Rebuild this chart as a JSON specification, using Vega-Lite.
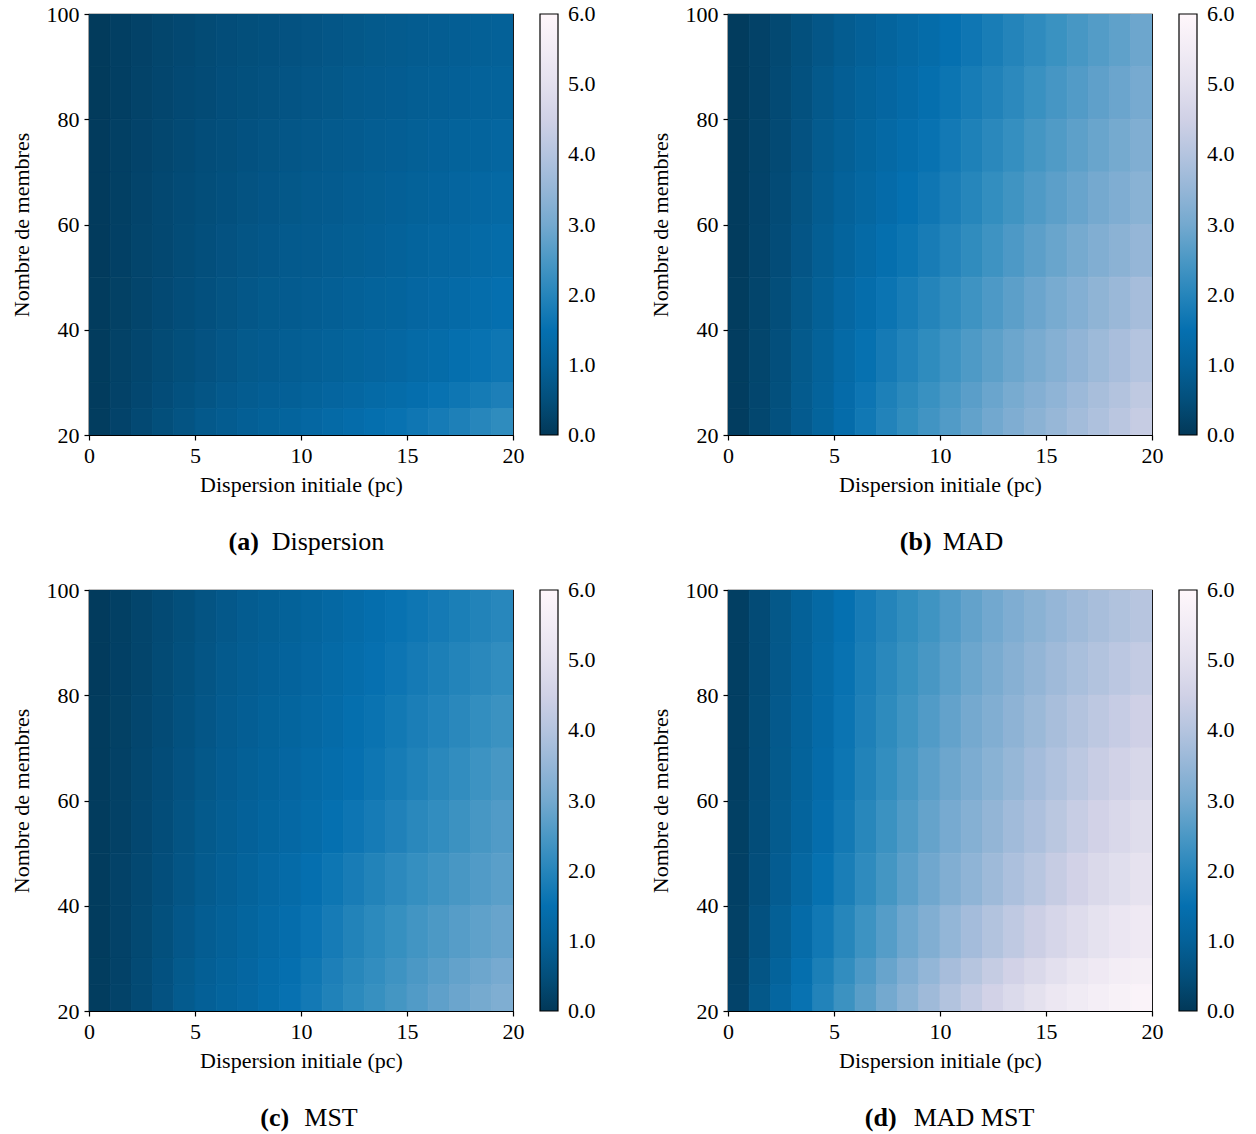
{
"$schema": "https://vega.github.io/schema/vega-lite/v6.json",
"background": "white",
"padding": {"top": 2, "left": 9, "right": 5, "bottom": 5},
"datasets": {
"cols": [{"k":"c0","x0":0,"x1":1},{"k":"c1","x0":1,"x1":2},{"k":"c2","x0":2,"x1":3},{"k":"c3","x0":3,"x1":4},{"k":"c4","x0":4,"x1":5},{"k":"c5","x0":5,"x1":6},{"k":"c6","x0":6,"x1":7},{"k":"c7","x0":7,"x1":8},{"k":"c8","x0":8,"x1":9},{"k":"c9","x0":9,"x1":10},{"k":"c10","x0":10,"x1":11},{"k":"c11","x0":11,"x1":12},{"k":"c12","x0":12,"x1":13},{"k":"c13","x0":13,"x1":14},{"k":"c14","x0":14,"x1":15},{"k":"c15","x0":15,"x1":16},{"k":"c16","x0":16,"x1":17},{"k":"c17","x0":17,"x1":18},{"k":"c18","x0":18,"x1":19},{"k":"c19","x0":19,"x1":20}],
"grid": [
{"p":"a","y0":90,"y1":100,"c0":0.06,"c1":0.15,"c2":0.23,"c3":0.30,"c4":0.36,"c5":0.41,"c6":0.46,"c7":0.50,"c8":0.54,"c9":0.58,"c10":0.62,"c11":0.66,"c12":0.70,"c13":0.74,"c14":0.78,"c15":0.82,"c16":0.86,"c17":0.90,"c18":0.94,"c19":0.98},
{"p":"a","y0":80,"y1":90,"c0":0.06,"c1":0.16,"c2":0.24,"c3":0.31,"c4":0.38,"c5":0.43,"c6":0.49,"c7":0.53,"c8":0.57,"c9":0.62,"c10":0.66,"c11":0.70,"c12":0.75,"c13":0.79,"c14":0.83,"c15":0.88,"c16":0.92,"c17":0.97,"c18":1.02,"c19":1.06},
{"p":"a","y0":70,"y1":80,"c0":0.07,"c1":0.17,"c2":0.25,"c3":0.33,"c4":0.40,"c5":0.46,"c6":0.51,"c7":0.56,"c8":0.61,"c9":0.66,"c10":0.71,"c11":0.75,"c12":0.80,"c13":0.85,"c14":0.90,"c15":0.95,"c16":1.00,"c17":1.05,"c18":1.10,"c19":1.16},
{"p":"a","y0":60,"y1":70,"c0":0.07,"c1":0.17,"c2":0.27,"c3":0.35,"c4":0.42,"c5":0.48,"c6":0.54,"c7":0.60,"c8":0.65,"c9":0.70,"c10":0.75,"c11":0.80,"c12":0.85,"c13":0.91,"c14":0.96,"c15":1.01,"c16":1.07,"c17":1.13,"c18":1.19,"c19":1.25},
{"p":"a","y0":50,"y1":60,"c0":0.07,"c1":0.18,"c2":0.28,"c3":0.36,"c4":0.44,"c5":0.51,"c6":0.58,"c7":0.63,"c8":0.69,"c9":0.75,"c10":0.80,"c11":0.86,"c12":0.91,"c13":0.97,"c14":1.03,"c15":1.09,"c16":1.15,"c17":1.21,"c18":1.29,"c19":1.35},
{"p":"a","y0":40,"y1":50,"c0":0.08,"c1":0.19,"c2":0.29,"c3":0.38,"c4":0.47,"c5":0.54,"c6":0.61,"c7":0.68,"c8":0.74,"c9":0.80,"c10":0.86,"c11":0.92,"c12":0.98,"c13":1.04,"c14":1.10,"c15":1.17,"c16":1.24,"c17":1.31,"c18":1.39,"c19":1.47},
{"p":"a","y0":30,"y1":40,"c0":0.08,"c1":0.21,"c2":0.31,"c3":0.41,"c4":0.50,"c5":0.58,"c6":0.66,"c7":0.74,"c8":0.80,"c9":0.87,"c10":0.94,"c11":1.01,"c12":1.08,"c13":1.14,"c14":1.21,"c15":1.29,"c16":1.36,"c17":1.45,"c18":1.55,"c19":1.64},
{"p":"a","y0":25,"y1":30,"c0":0.09,"c1":0.23,"c2":0.34,"c3":0.45,"c4":0.55,"c5":0.64,"c6":0.73,"c7":0.82,"c8":0.89,"c9":0.97,"c10":1.05,"c11":1.13,"c12":1.20,"c13":1.28,"c14":1.36,"c15":1.44,"c16":1.54,"c17":1.64,"c18":1.75,"c19":1.86},
{"p":"a","y0":20,"y1":25,"c0":0.10,"c1":0.25,"c2":0.38,"c3":0.50,"c4":0.61,"c5":0.72,"c6":0.82,"c7":0.92,"c8":1.01,"c9":1.10,"c10":1.19,"c11":1.28,"c12":1.37,"c13":1.46,"c14":1.55,"c15":1.65,"c16":1.76,"c17":1.88,"c18":2.02,"c19":2.15},
{"p":"b","y0":90,"y1":100,"c0":0.08,"c1":0.22,"c2":0.37,"c3":0.52,"c4":0.67,"c5":0.82,"c6":0.96,"c7":1.09,"c8":1.22,"c9":1.36,"c10":1.50,"c11":1.65,"c12":1.80,"c13":1.97,"c14":2.14,"c15":2.30,"c16":2.45,"c17":2.60,"c18":2.75,"c19":2.92},
{"p":"b","y0":80,"y1":90,"c0":0.08,"c1":0.23,"c2":0.39,"c3":0.55,"c4":0.72,"c5":0.89,"c6":1.04,"c7":1.17,"c8":1.31,"c9":1.46,"c10":1.61,"c11":1.77,"c12":1.93,"c13":2.09,"c14":2.29,"c15":2.44,"c16":2.59,"c17":2.74,"c18":2.89,"c19":3.05},
{"p":"b","y0":70,"y1":80,"c0":0.09,"c1":0.24,"c2":0.40,"c3":0.58,"c4":0.77,"c5":0.95,"c6":1.11,"c7":1.26,"c8":1.40,"c9":1.55,"c10":1.72,"c11":1.89,"c12":2.06,"c13":2.23,"c14":2.42,"c15":2.57,"c16":2.72,"c17":2.87,"c18":3.02,"c19":3.18},
{"p":"b","y0":60,"y1":70,"c0":0.09,"c1":0.25,"c2":0.42,"c3":0.61,"c4":0.82,"c5":1.02,"c6":1.18,"c7":1.34,"c8":1.49,"c9":1.65,"c10":1.83,"c11":2.01,"c12":2.20,"c13":2.37,"c14":2.55,"c15":2.71,"c16":2.86,"c17":3.01,"c18":3.16,"c19":3.32},
{"p":"b","y0":50,"y1":60,"c0":0.09,"c1":0.27,"c2":0.45,"c3":0.65,"c4":0.88,"c5":1.10,"c6":1.28,"c7":1.45,"c8":1.61,"c9":1.79,"c10":1.97,"c11":2.16,"c12":2.35,"c13":2.53,"c14":2.71,"c15":2.87,"c16":3.03,"c17":3.19,"c18":3.34,"c19":3.50},
{"p":"b","y0":40,"y1":50,"c0":0.10,"c1":0.28,"c2":0.48,"c3":0.70,"c4":0.95,"c5":1.19,"c6":1.40,"c7":1.59,"c8":1.78,"c9":1.97,"c10":2.16,"c11":2.35,"c12":2.53,"c13":2.71,"c14":2.89,"c15":3.06,"c16":3.22,"c17":3.40,"c18":3.57,"c19":3.75},
{"p":"b","y0":30,"y1":40,"c0":0.11,"c1":0.30,"c2":0.51,"c3":0.74,"c4":1.01,"c5":1.28,"c6":1.52,"c7":1.74,"c8":1.95,"c9":2.15,"c10":2.35,"c11":2.54,"c12":2.72,"c13":2.90,"c14":3.08,"c15":3.26,"c16":3.43,"c17":3.62,"c18":3.80,"c19":4.00},
{"p":"b","y0":25,"y1":30,"c0":0.11,"c1":0.31,"c2":0.53,"c3":0.78,"c4":1.05,"c5":1.34,"c6":1.62,"c7":1.87,"c8":2.08,"c9":2.29,"c10":2.48,"c11":2.68,"c12":2.88,"c13":3.06,"c14":3.24,"c15":3.41,"c16":3.60,"c17":3.78,"c18":3.98,"c19":4.19},
{"p":"b","y0":20,"y1":25,"c0":0.12,"c1":0.32,"c2":0.55,"c3":0.80,"c4":1.08,"c5":1.38,"c6":1.68,"c7":1.95,"c8":2.17,"c9":2.38,"c10":2.58,"c11":2.78,"c12":2.98,"c13":3.16,"c14":3.34,"c15":3.52,"c16":3.71,"c17":3.90,"c18":4.10,"c19":4.32},
{"p":"c","y0":90,"y1":100,"c0":0.07,"c1":0.17,"c2":0.28,"c3":0.39,"c4":0.50,"c5":0.61,"c6":0.71,"c7":0.81,"c8":0.91,"c9":1.01,"c10":1.11,"c11":1.22,"c12":1.33,"c13":1.44,"c14":1.54,"c15":1.64,"c16":1.74,"c17":1.84,"c18":1.94,"c19":2.04},
{"p":"c","y0":80,"y1":90,"c0":0.07,"c1":0.18,"c2":0.29,"c3":0.41,"c4":0.53,"c5":0.64,"c6":0.75,"c7":0.86,"c8":0.96,"c9":1.07,"c10":1.17,"c11":1.28,"c12":1.39,"c13":1.51,"c14":1.62,"c15":1.74,"c16":1.85,"c17":1.96,"c18":2.07,"c19":2.18},
{"p":"c","y0":70,"y1":80,"c0":0.08,"c1":0.19,"c2":0.31,"c3":0.43,"c4":0.55,"c5":0.67,"c6":0.79,"c7":0.90,"c8":1.01,"c9":1.12,"c10":1.22,"c11":1.33,"c12":1.45,"c13":1.57,"c14":1.70,"c15":1.83,"c16":1.95,"c17":2.07,"c18":2.20,"c19":2.31},
{"p":"c","y0":60,"y1":70,"c0":0.08,"c1":0.20,"c2":0.32,"c3":0.45,"c4":0.58,"c5":0.70,"c6":0.83,"c7":0.95,"c8":1.06,"c9":1.17,"c10":1.28,"c11":1.39,"c12":1.51,"c13":1.64,"c14":1.78,"c15":1.92,"c16":2.06,"c17":2.19,"c18":2.33,"c19":2.45},
{"p":"c","y0":50,"y1":60,"c0":0.08,"c1":0.20,"c2":0.34,"c3":0.47,"c4":0.61,"c5":0.74,"c6":0.87,"c7":1.00,"c8":1.12,"c9":1.24,"c10":1.36,"c11":1.49,"c12":1.62,"c13":1.76,"c14":1.91,"c15":2.06,"c16":2.19,"c17":2.32,"c18":2.45,"c19":2.58},
{"p":"c","y0":40,"y1":50,"c0":0.09,"c1":0.22,"c2":0.35,"c3":0.49,"c4":0.64,"c5":0.78,"c6":0.92,"c7":1.05,"c8":1.19,"c9":1.32,"c10":1.47,"c11":1.63,"c12":1.79,"c13":1.94,"c14":2.09,"c15":2.23,"c16":2.35,"c17":2.47,"c18":2.58,"c19":2.69},
{"p":"c","y0":30,"y1":40,"c0":0.09,"c1":0.23,"c2":0.37,"c3":0.52,"c4":0.69,"c5":0.85,"c6":0.99,"c7":1.12,"c8":1.26,"c9":1.41,"c10":1.58,"c11":1.76,"c12":1.94,"c13":2.10,"c14":2.25,"c15":2.39,"c16":2.52,"c17":2.64,"c18":2.75,"c19":2.86},
{"p":"c","y0":25,"y1":30,"c0":0.10,"c1":0.23,"c2":0.39,"c3":0.56,"c4":0.74,"c5":0.92,"c6":1.05,"c7":1.17,"c8":1.32,"c9":1.48,"c10":1.66,"c11":1.86,"c12":2.03,"c13":2.19,"c14":2.35,"c15":2.50,"c16":2.65,"c17":2.79,"c18":2.92,"c19":3.05},
{"p":"c","y0":20,"y1":25,"c0":0.10,"c1":0.24,"c2":0.40,"c3":0.58,"c4":0.78,"c5":0.97,"c6":1.10,"c7":1.21,"c8":1.36,"c9":1.53,"c10":1.72,"c11":1.92,"c12":2.10,"c13":2.26,"c14":2.42,"c15":2.58,"c16":2.74,"c17":2.89,"c18":3.03,"c19":3.17},
{"p":"d","y0":90,"y1":100,"c0":0.15,"c1":0.42,"c2":0.70,"c3":0.98,"c4":1.25,"c5":1.50,"c6":1.76,"c7":1.98,"c8":2.17,"c9":2.36,"c10":2.58,"c11":2.79,"c12":2.98,"c13":3.16,"c14":3.33,"c15":3.49,"c16":3.64,"c17":3.78,"c18":3.92,"c19":4.05},
{"p":"d","y0":80,"y1":90,"c0":0.15,"c1":0.43,"c2":0.71,"c3":1.00,"c4":1.28,"c5":1.54,"c6":1.82,"c7":2.06,"c8":2.27,"c9":2.47,"c10":2.69,"c11":2.90,"c12":3.09,"c13":3.28,"c14":3.46,"c15":3.64,"c16":3.81,"c17":3.97,"c18":4.13,"c19":4.27},
{"p":"d","y0":70,"y1":80,"c0":0.16,"c1":0.44,"c2":0.73,"c3":1.02,"c4":1.31,"c5":1.59,"c6":1.88,"c7":2.13,"c8":2.36,"c9":2.58,"c10":2.80,"c11":3.01,"c12":3.20,"c13":3.39,"c14":3.59,"c15":3.78,"c16":3.98,"c17":4.16,"c18":4.33,"c19":4.48},
{"p":"d","y0":60,"y1":70,"c0":0.16,"c1":0.45,"c2":0.74,"c3":1.04,"c4":1.34,"c5":1.63,"c6":1.94,"c7":2.21,"c8":2.45,"c9":2.70,"c10":2.92,"c11":3.12,"c12":3.32,"c13":3.51,"c14":3.72,"c15":3.93,"c16":4.15,"c17":4.36,"c18":4.54,"c19":4.70},
{"p":"d","y0":50,"y1":60,"c0":0.17,"c1":0.46,"c2":0.78,"c3":1.09,"c4":1.41,"c5":1.71,"c6":2.03,"c7":2.31,"c8":2.57,"c9":2.82,"c10":3.04,"c11":3.25,"c12":3.46,"c13":3.67,"c14":3.88,"c15":4.11,"c16":4.34,"c17":4.55,"c18":4.74,"c19":4.90},
{"p":"d","y0":40,"y1":50,"c0":0.18,"c1":0.49,"c2":0.83,"c3":1.18,"c4":1.52,"c5":1.82,"c6":2.14,"c7":2.42,"c8":2.70,"c9":2.95,"c10":3.19,"c11":3.41,"c12":3.63,"c13":3.86,"c14":4.08,"c15":4.32,"c16":4.55,"c17":4.76,"c18":4.94,"c19":5.09},
{"p":"d","y0":30,"y1":40,"c0":0.20,"c1":0.56,"c2":0.94,"c3":1.32,"c4":1.68,"c5":2.01,"c6":2.33,"c7":2.63,"c8":2.93,"c9":3.20,"c10":3.47,"c11":3.72,"c12":3.96,"c13":4.20,"c14":4.43,"c15":4.66,"c16":4.87,"c17":5.07,"c18":5.23,"c19":5.36},
{"p":"d","y0":25,"y1":30,"c0":0.23,"c1":0.64,"c2":1.06,"c3":1.45,"c4":1.84,"c5":2.19,"c6":2.53,"c7":2.85,"c8":3.16,"c9":3.47,"c10":3.76,"c11":4.04,"c12":4.31,"c13":4.55,"c14":4.78,"c15":5.00,"c16":5.20,"c17":5.36,"c18":5.51,"c19":5.62},
{"p":"d","y0":20,"y1":25,"c0":0.25,"c1":0.70,"c2":1.15,"c3":1.55,"c4":1.95,"c5":2.32,"c6":2.67,"c7":3.00,"c8":3.33,"c9":3.65,"c10":3.97,"c11":4.27,"c12":4.55,"c13":4.80,"c14":5.03,"c15":5.24,"c16":5.42,"c17":5.57,"c18":5.70,"c19":5.80}
]
},
"columns": 2,
"spacing": {"column": 52, "row": 22},
"resolve": {"scale": {"color": "shared", "x": "independent", "y": "independent"}, "legend": {"color": "independent"}},
"concat": [
{"title": {"text": "(a)", "orient": "bottom", "anchor": "middle", "frame": "bounds", "fontWeight": "bold", "dx": -59, "dy": -27, "offset": 0},
 "vconcat": [{
  "width": 424, "height": 421,
  "data": {"name": "grid"},
  "transform": [{"filter": "datum.p === 'a'"}, {"fold": ["c0","c1","c2","c3","c4","c5","c6","c7","c8","c9","c10","c11","c12","c13","c14","c15","c16","c17","c18","c19"], "as": ["k","v"]}, {"lookup": "k", "from": {"data": {"name": "cols"}, "key": "k", "fields": ["x0","x1"]}}],
  "mark": {"type": "rect", "clip": true, "stroke": {"expr": "scale('color', datum.v)"}, "strokeWidth": 0.8},
  "encoding": {
   "x": {"field": "x0", "type": "quantitative", "scale": {"domain": [0,20], "nice": false, "zero": false}, "axis": {"values": [0,5,10,15,20], "title": "Dispersion initiale (pc)"}},
   "x2": {"field": "x1"},
   "y": {"field": "y0", "type": "quantitative", "scale": {"domain": [20,100], "nice": false, "zero": false}, "axis": {"values": [20,40,60,80,100], "title": "Nombre de membres"}},
   "y2": {"field": "y1"},
   "color": {"field": "v", "type": "quantitative", "scale": {"type": "linear", "domain": [0,0.75,1.5,2.25,3,3.75,4.5,5.25,6], "range": ["#023858","#045a8d","#0570b0","#3690c0","#74a9cf","#a6bddb","#d0d1e6","#ece7f2","#fff7fb"], "interpolate": "rgb"}, "legend": {"type": "gradient", "values": [0,1,2,3,4,5,6], "format": ".1f", "title": null, "labelOffset": 10, "encode": {"labels": {"update": {"baseline": {"value": "middle"}}}}}}
  },
  "title": {"text": "Dispersion", "orient": "bottom", "anchor": "middle", "frame": "group", "dx": 27, "offset": 34}
 }]
},
{"title": {"text": "(b)", "orient": "bottom", "anchor": "middle", "frame": "bounds", "fontWeight": "bold", "dx": -26, "dy": -27, "offset": 0},
 "vconcat": [{
  "width": 424, "height": 421,
  "data": {"name": "grid"},
  "transform": [{"filter": "datum.p === 'b'"}, {"fold": ["c0","c1","c2","c3","c4","c5","c6","c7","c8","c9","c10","c11","c12","c13","c14","c15","c16","c17","c18","c19"], "as": ["k","v"]}, {"lookup": "k", "from": {"data": {"name": "cols"}, "key": "k", "fields": ["x0","x1"]}}],
  "mark": {"type": "rect", "clip": true, "stroke": {"expr": "scale('color', datum.v)"}, "strokeWidth": 0.8},
  "encoding": {
   "x": {"field": "x0", "type": "quantitative", "scale": {"domain": [0,20], "nice": false, "zero": false}, "axis": {"values": [0,5,10,15,20], "title": "Dispersion initiale (pc)"}},
   "x2": {"field": "x1"},
   "y": {"field": "y0", "type": "quantitative", "scale": {"domain": [20,100], "nice": false, "zero": false}, "axis": {"values": [20,40,60,80,100], "title": "Nombre de membres"}},
   "y2": {"field": "y1"},
   "color": {"field": "v", "type": "quantitative", "scale": {"type": "linear", "domain": [0,0.75,1.5,2.25,3,3.75,4.5,5.25,6], "range": ["#023858","#045a8d","#0570b0","#3690c0","#74a9cf","#a6bddb","#d0d1e6","#ece7f2","#fff7fb"], "interpolate": "rgb"}, "legend": {"type": "gradient", "values": [0,1,2,3,4,5,6], "format": ".1f", "title": null, "labelOffset": 10, "encode": {"labels": {"update": {"baseline": {"value": "middle"}}}}}}
  },
  "title": {"text": "MAD", "orient": "bottom", "anchor": "middle", "frame": "group", "dx": 33, "offset": 34}
 }]
},
{"title": {"text": "(c)", "orient": "bottom", "anchor": "middle", "frame": "bounds", "fontWeight": "bold", "dx": -28, "dy": -27, "offset": 0},
 "vconcat": [{
  "width": 424, "height": 421,
  "data": {"name": "grid"},
  "transform": [{"filter": "datum.p === 'c'"}, {"fold": ["c0","c1","c2","c3","c4","c5","c6","c7","c8","c9","c10","c11","c12","c13","c14","c15","c16","c17","c18","c19"], "as": ["k","v"]}, {"lookup": "k", "from": {"data": {"name": "cols"}, "key": "k", "fields": ["x0","x1"]}}],
  "mark": {"type": "rect", "clip": true, "stroke": {"expr": "scale('color', datum.v)"}, "strokeWidth": 0.8},
  "encoding": {
   "x": {"field": "x0", "type": "quantitative", "scale": {"domain": [0,20], "nice": false, "zero": false}, "axis": {"values": [0,5,10,15,20], "title": "Dispersion initiale (pc)"}},
   "x2": {"field": "x1"},
   "y": {"field": "y0", "type": "quantitative", "scale": {"domain": [20,100], "nice": false, "zero": false}, "axis": {"values": [20,40,60,80,100], "title": "Nombre de membres"}},
   "y2": {"field": "y1"},
   "color": {"field": "v", "type": "quantitative", "scale": {"type": "linear", "domain": [0,0.75,1.5,2.25,3,3.75,4.5,5.25,6], "range": ["#023858","#045a8d","#0570b0","#3690c0","#74a9cf","#a6bddb","#d0d1e6","#ece7f2","#fff7fb"], "interpolate": "rgb"}, "legend": {"type": "gradient", "values": [0,1,2,3,4,5,6], "format": ".1f", "title": null, "labelOffset": 10, "encode": {"labels": {"update": {"baseline": {"value": "middle"}}}}}}
  },
  "title": {"text": "MST", "orient": "bottom", "anchor": "middle", "frame": "group", "dx": 30, "offset": 34}
 }]
},
{"title": {"text": "(d)", "orient": "bottom", "anchor": "middle", "frame": "bounds", "fontWeight": "bold", "dx": -61, "dy": -27, "offset": 0},
 "vconcat": [{
  "width": 424, "height": 421,
  "data": {"name": "grid"},
  "transform": [{"filter": "datum.p === 'd'"}, {"fold": ["c0","c1","c2","c3","c4","c5","c6","c7","c8","c9","c10","c11","c12","c13","c14","c15","c16","c17","c18","c19"], "as": ["k","v"]}, {"lookup": "k", "from": {"data": {"name": "cols"}, "key": "k", "fields": ["x0","x1"]}}],
  "mark": {"type": "rect", "clip": true, "stroke": {"expr": "scale('color', datum.v)"}, "strokeWidth": 0.8},
  "encoding": {
   "x": {"field": "x0", "type": "quantitative", "scale": {"domain": [0,20], "nice": false, "zero": false}, "axis": {"values": [0,5,10,15,20], "title": "Dispersion initiale (pc)"}},
   "x2": {"field": "x1"},
   "y": {"field": "y0", "type": "quantitative", "scale": {"domain": [20,100], "nice": false, "zero": false}, "axis": {"values": [20,40,60,80,100], "title": "Nombre de membres"}},
   "y2": {"field": "y1"},
   "color": {"field": "v", "type": "quantitative", "scale": {"type": "linear", "domain": [0,0.75,1.5,2.25,3,3.75,4.5,5.25,6], "range": ["#023858","#045a8d","#0570b0","#3690c0","#74a9cf","#a6bddb","#d0d1e6","#ece7f2","#fff7fb"], "interpolate": "rgb"}, "legend": {"type": "gradient", "values": [0,1,2,3,4,5,6], "format": ".1f", "title": null, "labelOffset": 10, "encode": {"labels": {"update": {"baseline": {"value": "middle"}}}}}}
  },
  "title": {"text": "MAD MST", "orient": "bottom", "anchor": "middle", "frame": "group", "dx": 34, "offset": 34}
 }]
}
],
"config": {
 "font": "Liberation Serif",
 "view": {"stroke": "black", "strokeWidth": 1.2},
 "axis": {"labelFont": "Liberation Serif", "labelFontSize": 22, "labelColor": "black", "titleFont": "Liberation Serif", "titleFontSize": 22, "titleFontWeight": "normal", "titleColor": "black", "domainColor": "black", "domainWidth": 1.2, "tickColor": "black", "tickWidth": 1.2, "tickSize": 5, "grid": false, "labelPadding": 5, "labelFlush": false},
 "axisX": {"titlePadding": 8},
 "axisY": {"titlePadding": 13},
 "legend": {"orient": "right", "offset": 15, "gradientLength": 421, "gradientThickness": 18, "gradientStrokeColor": "black", "gradientStrokeWidth": 1.2, "labelFont": "Liberation Serif", "labelFontSize": 22, "labelColor": "black", "labelOverlap": false, "padding": 0},
 "title": {"font": "Liberation Serif", "fontSize": 26, "color": "black", "fontWeight": "normal"}
}
}
